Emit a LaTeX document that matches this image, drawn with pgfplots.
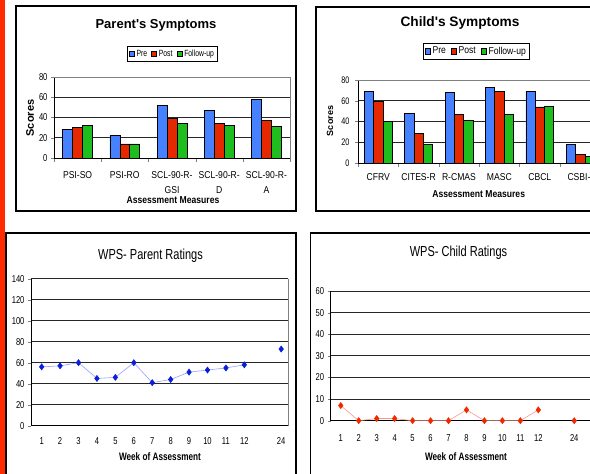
\documentclass[border=0pt]{standalone}
\usepackage{fontspec}
\setmainfont{Liberation Sans}
\newfontfamily\arial{Liberation Sans}
\newfontfamily\condA[FakeStretch=0.86]{Liberation Sans}
\newfontfamily\condB[FakeStretch=0.76]{Liberation Sans}
\usepackage{pgfplots}
\pgfplotsset{compat=1.18}
\definecolor{stripred}{RGB}{255,42,0}
\definecolor{barblue}{RGB}{70,130,255}
\definecolor{barred}{RGB}{230,40,0}
\definecolor{bargreen}{RGB}{30,190,30}
\definecolor{ptblue}{RGB}{10,30,220}
\definecolor{lnblue}{RGB}{150,160,255}
\definecolor{ptred}{RGB}{240,40,0}
\definecolor{lnred}{RGB}{255,150,140}

\pgfplotsset{
  panel/.style={
    scale only axis, anchor=south west, clip=false,
    axis lines*=left, tick align=outside,
    major tick length=3pt, minor tick length=4pt,
    ymajorgrids, grid style={black!85, line width=0.8pt},
    axis line style={black, line width=0.8pt},
    /pgf/number format/assume math mode=true,
  },
  bars/.style={
    ybar=0pt,
    major x tick style={draw=none},
    legend columns=3,
    legend image code/.code={\draw[##1,draw=black,line width=0.5pt] (0pt,-2.6pt) rectangle (5.2pt,2.6pt);},
    every axis plot/.append style={draw=black, line width=0.6pt},
  },
  weeks/.style={
    xtick={1,...,12,14}, xticklabels={1,2,3,4,5,6,7,8,9,10,11,12,24},
    major x tick style={draw=none},
    unbounded coords=jump,
    xticklabel style={font=\condB\fontsize{10}{11}\selectfont},
    yticklabel style={font=\condB\fontsize{10}{11}\selectfont},
  },
}

\begin{document}
\begin{tikzpicture}[x=1pt,y=1pt]
\useasboundingbox (0,0) rectangle (590,474);
\fill[stripred] (0,0) rectangle (5,474);

% panel frames
\draw[line width=1.5pt] (16,263) rectangle (296,468);
\draw[line width=1.5pt] (316,263) rectangle (610,467);
\draw[line width=1.5pt] (6,-10) rectangle (296,241);
\draw[line width=1.5pt] (310.7,-10) rectangle (610,241);

% Parent's Symptoms
\begin{axis}[panel, bars,
  at={(54pt,316pt)}, width=236pt, height=81pt,
  xmin=-0.5, xmax=4.5, ymin=0, ymax=80,
  bar width=0.21,
  xtick={0,...,4},
  xticklabels={PSI-SO,PSI-RO,{SCL-90-R-\\GSI},{SCL-90-R-\\D},{SCL-90-R-\\A}},
  minor xtick={-0.5,0.5,...,4.5},
  ytick={0,20,...,80},
  xticklabel style={font=\condA\fontsize{10}{15}\selectfont, align=center, yshift=-7pt},
  yticklabel style={font=\condB\fontsize{10}{11}\selectfont},
  legend style={at={(0.309,1.383)}, anchor=north west, draw=black, line width=0.8pt,
    font=\condB\fontsize{9}{10}\selectfont, inner sep=1.5pt,
    /tikz/every even column/.append style={column sep=2pt}},
]
\addplot[fill=barblue] coordinates {(0,28) (1,22) (2,52) (3,47) (4,58)};
\addplot[fill=barred] coordinates {(0,30) (1,14) (2,39) (3,34) (4,37)};
\addplot[fill=bargreen] coordinates {(0,32) (1,14) (2,34) (3,32) (4,31)};
\legend{Pre,Post,Follow-up}
\draw[gray, line width=0.8pt] (rel axis cs:0,1) -- (rel axis cs:1,1) -- (rel axis cs:1,0);
\end{axis}

% Child's Symptoms
\begin{axis}[panel, bars,
  at={(358pt,311pt)}, width=242.4pt, height=83pt,
  xmin=-0.5, xmax=5.5, ymin=0, ymax=80,
  bar width=0.23,
  xtick={0,...,5},
  xticklabels={CFRV,CITES-R,R-CMAS,MASC,CBCL,CSBI-I},
  minor xtick={-0.5,0.5,...,5.5},
  ytick={0,20,...,80},
  xticklabel style={font=\condA\fontsize{10}{12}\selectfont, yshift=-4pt},
  yticklabel style={font=\condB\fontsize{9.5}{11}\selectfont, xshift=-2pt},
  legend style={at={(0.268,1.446)}, anchor=north west, draw=black, line width=0.8pt,
    font=\condA\fontsize{10}{11}\selectfont, inner sep=1.5pt,
    /tikz/every even column/.append style={column sep=3pt}},
]
\addplot[fill=barblue] coordinates {(0,69) (1,48) (2,68) (3,73) (4,69) (5,18)};
\addplot[fill=barred] coordinates {(0,59) (1,28.5) (2,47) (3,69) (4,54) (5,8.5)};
\addplot[fill=bargreen] coordinates {(0,40) (1,18) (2,41) (3,47) (4,54.5) (5,6.5)};
\legend{Pre,Post,Follow-up}
\draw[gray, line width=0.8pt] (rel axis cs:0,1) -- (rel axis cs:1,1);
\end{axis}

% WPS- Parent Ratings
\begin{axis}[panel, weeks,
  at={(31pt,48.3pt)}, width=257pt, height=147pt,
  xmin=0.42, xmax=14.37, ymin=0, ymax=140,
  ytick={0,20,...,140},
  xticklabel style={yshift=-5pt},
]
\addplot[lnblue, line width=0.6pt, mark=diamond*, mark size=3pt,
  mark options={draw=ptblue, fill=ptblue}]
  coordinates {(1,56) (2,57) (3,60) (4,45) (5,46) (6,60) (7,41) (8,44)
               (9,51) (10,53) (11,55) (12,58) (13,nan) (14,73)};
\draw[gray, line width=0.8pt] (rel axis cs:1,0) -- (rel axis cs:1,1);
\end{axis}

% WPS- Child Ratings
\begin{axis}[panel, weeks,
  at={(330.7pt,53.3pt)}, width=261.5pt, height=129.7pt,
  xmin=0.44, xmax=15, ymin=0, ymax=60,
  ytick={0,10,...,60},
  xticklabel style={yshift=-7pt},
]
\addplot[lnred, line width=0.6pt, mark=diamond*, mark size=3pt,
  mark options={draw=ptred, fill=ptred}]
  coordinates {(1,7) (2,0) (3,1) (4,1) (5,0) (6,0) (7,0) (8,5)
               (9,0) (10,0) (11,0) (12,5) (13,nan) (14,0)};
\end{axis}

% titles and axis labels
\node[font=\arial\bfseries\fontsize{13}{15}\selectfont] at (156,449) {Parent's Symptoms};
\node[font=\arial\bfseries\fontsize{13.7}{15}\selectfont] at (460,451) {Child's Symptoms};
\node[font=\condB\fontsize{14.5}{16}\selectfont] at (150.5,218) {WPS- Parent Ratings};
\node[font=\condB\fontsize{14.5}{16}\selectfont] at (458.5,221) {WPS- Child Ratings};

\node[font=\condA\bfseries\fontsize{10}{11}\selectfont] at (173,274) {Assessment Measures};
\node[font=\condA\bfseries\fontsize{10}{11}\selectfont] at (478.7,280) {Assessment Measures};
\node[font=\condB\bfseries\fontsize{10.8}{12}\selectfont] at (160,17.3) {Week of Assessment};
\node[font=\condB\bfseries\fontsize{10.8}{12}\selectfont] at (466,17) {Week of Assessment};

\node[rotate=90, font=\bfseries\fontsize{11}{12}\selectfont] at (30,356) {Scores};
\node[rotate=90, font=\bfseries\fontsize{9}{10}\selectfont] at (330,353) {Scores};
\end{tikzpicture}
\end{document}
